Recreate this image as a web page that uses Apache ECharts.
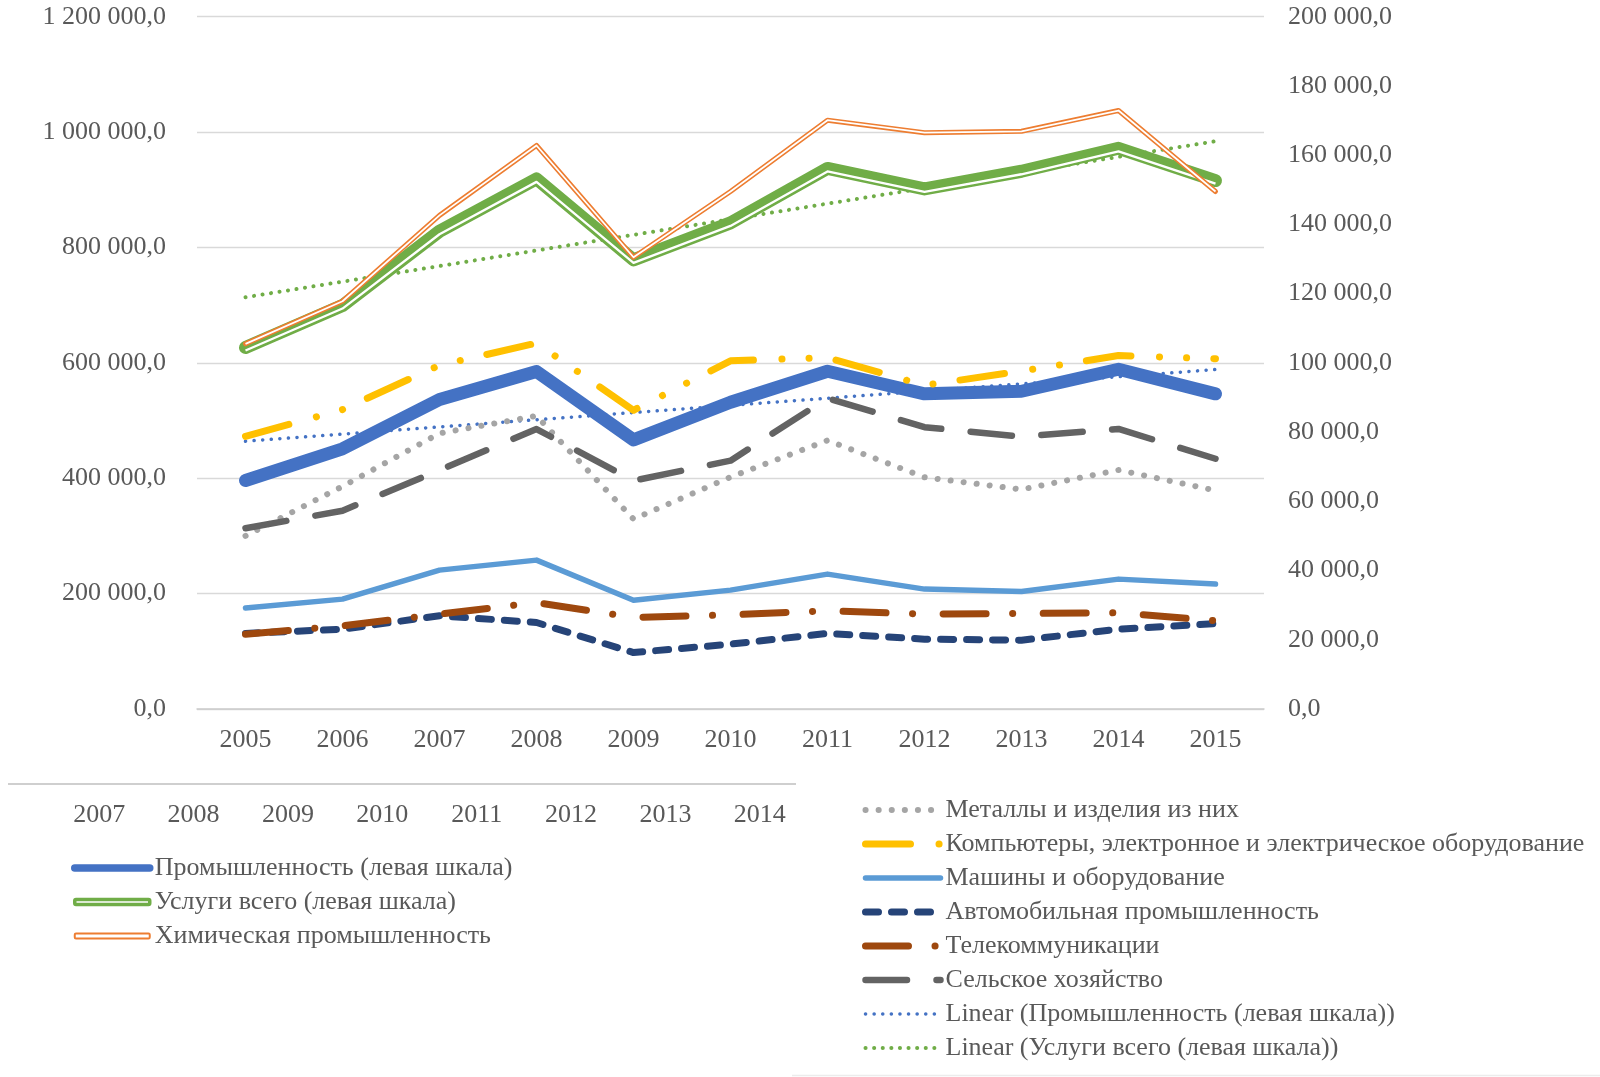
<!DOCTYPE html>
<html><head><meta charset="utf-8">
<script src="https://cdn.jsdelivr.net/npm/echarts@6/dist/echarts.min.js"></script>
<style>html,body{margin:0;padding:0;background:#fff}#c{width:1600px;height:1077px}</style>
</head><body><div id="c"></div>
<script>
// ---- data ----
const years = ['2005','2006','2007','2008','2009','2010','2011','2012','2013','2014','2015'];
const axis2Years = ['2007','2008','2009','2010','2011','2012','2013','2014'];
// left scale
const industry = [396000, 451000, 536400, 585000, 466500, 531700, 585500, 546300, 550800, 588900, 546300];
const services = [626500, 699300, 828100, 918900, 778500, 842600, 937000, 901500, 932100, 971900, 915900];
const trendIndustry = [464100, null, null, null, null, null, null, null, null, null, 588400];
const trendServices = [713700, null, null, null, null, null, null, null, null, null, 984100];
// right scale
const chemical = [105500, 117800, 142600, 162800, 130500, 149500, 170100, 166500, 166900, 172900, 149500];
const metals = [50000, 64300, 79650, 84670, 54870, 67000, 77600, 66950, 63420, 69030, 63130];
const computers = [78760, 86500, 99300, 105700, 86300, 100600, 101500, 93510, 97640, 102100, 101200];
const machines = [29150, 31740, 40120, 43010, 31440, 34340, 38970, 34640, 33950, 37520, 36080];
const autos = [21830, 23070, 26930, 24990, 16310, 18730, 21830, 20180, 19880, 23070, 24690];
const telecom = [21620, 24040, 27400, 30760, 26430, 27200, 28380, 27400, 27580, 27790, 25490];
const agriculture = [52210, 57280, 69000, 80880, 65960, 71740, 89800, 81400, 78700, 80900, 72300];

const names = {
  ind: 'Промышленность (левая шкала)',
  srv: 'Услуги всего (левая шкала)',
  chem: 'Химическая промышленность',
  met: 'Металлы и изделия из них',
  comp: 'Компьютеры, электронное и электрическое оборудование',
  mach: 'Машины и оборудование',
  auto: 'Автомобильная промышленность',
  tel: 'Телекоммуникации',
  agr: 'Сельское хозяйство',
  tInd: 'Linear (Промышленность (левая шкала))',
  tSrv: 'Linear (Услуги всего (левая шкала))'
};

const FONT = 'Liberation Serif';
const TXT = '#595959';
function fmt(v){ return String(Math.round(v)).replace(/\B(?=(\d{3})+(?!\d))/g,' ') + ',0'; }

const chart = echarts.init(document.getElementById('c'), null, {renderer:'canvas'});
const base = {type:'line', symbol:'none', showSymbol:false, smooth:false, animation:false, silent:true};
const lbl = {fontFamily:FONT, fontSize:26, color:TXT};

const option = {
  backgroundColor:'#fff',
  animation:false,
  grid:[
    {left:197, right:336, top:16.7, bottom:368},
    {left:197, right:336, top:19.7, bottom:365},
    {left:52, width:755, top:783, height:1}
  ],
  xAxis:[
    {type:'category', gridIndex:0, data:years, boundaryGap:true,
     axisLine:{show:true, lineStyle:{color:'#cccccc', width:1.5}}, axisTick:{show:false},
     axisLabel:Object.assign({margin:18}, lbl), splitLine:{show:false}},
    {type:'category', gridIndex:1, data:years, boundaryGap:true, show:false},
    {type:'category', gridIndex:2, data:axis2Years, boundaryGap:true,
     axisLine:{show:false}, axisTick:{show:false}, axisLabel:Object.assign({margin:18}, lbl)}
  ],
  yAxis:[
    {type:'value', gridIndex:0, min:0, max:1200000, interval:200000, position:'left',
     axisLine:{show:false}, axisTick:{show:false},
     axisLabel:Object.assign({margin:31, formatter:fmt}, lbl),
     splitLine:{show:true, lineStyle:{color:'#d9d9d9', width:1.3}}},
    {type:'value', gridIndex:0, min:0, max:200000, interval:20000, position:'right',
     axisLine:{show:false}, axisTick:{show:false},
     axisLabel:Object.assign({margin:24, formatter:fmt}, lbl),
     splitLine:{show:false}},
    {type:'value', gridIndex:1, min:0, max:1200000, interval:200000, show:false},
    {type:'value', gridIndex:2, min:0, max:1, show:false}
  ],
  legend:[
    {orient:'vertical', left:71, top:855, padding:0, itemWidth:75, itemHeight:5, itemGap:8, selectedMode:false,
     textStyle:{fontFamily:FONT, fontSize:26, color:TXT, lineHeight:26},
     itemStyle:{color:'rgba(0,0,0,0)', borderWidth:0},
     lineStyle:{width:'inherit'},
     data:[
       {name:names.ind, lineStyle:{width:7.5, cap:'round'}},
       {name:names.srv, icon:'roundRect', itemStyle:{color:'#ffffff', borderColor:'#70AD47', borderWidth:3.5}},
       {name:names.chem, icon:'roundRect', itemStyle:{color:'#ffffff', borderColor:'#ED7D31', borderWidth:2}}
     ]},
    {orient:'vertical', left:862, top:797, padding:0, itemWidth:75, itemHeight:8, itemGap:8, selectedMode:false,
     textStyle:{fontFamily:FONT, fontSize:26, color:TXT, lineHeight:26},
     itemStyle:{color:'rgba(0,0,0,0)', borderWidth:0},
     lineStyle:{width:'inherit'},
     data:[names.met, names.comp, names.mach, names.auto, names.tel, names.agr, names.tInd, names.tSrv]}
  ],
  graphic:[
    {type:'line', shape:{x1:8, y1:784, x2:796, y2:784}, style:{stroke:'#bfbfbf', lineWidth:1.5}, silent:true},
    {type:'line', shape:{x1:792, y1:1075.5, x2:1600, y2:1075.5}, style:{stroke:'#ececec', lineWidth:1.5}, silent:true}
  ],
  series:[
    Object.assign({}, base, {name:names.tInd, data:trendIndustry, connectNulls:true, xAxisIndex:0, yAxisIndex:0,
      lineStyle:{color:'#4472C4', width:3.5, type:[0.1, 8.5], cap:'round'}}),
    Object.assign({}, base, {name:names.tSrv, data:trendServices, connectNulls:true, xAxisIndex:0, yAxisIndex:0,
      lineStyle:{color:'#70AD47', width:4, type:[0.1, 8.5], cap:'round'}}),
    Object.assign({}, base, {name:names.ind, data:industry, xAxisIndex:0, yAxisIndex:0,
      lineStyle:{color:'#4472C4', width:13, cap:'round', join:'round'}}),
    Object.assign({}, base, {name:names.srv, data:services, xAxisIndex:0, yAxisIndex:0,
      lineStyle:{color:'#70AD47', width:13, cap:'round', join:'round'}}),
    Object.assign({}, base, {name:'_srvGap', data:services, xAxisIndex:1, yAxisIndex:2,
      lineStyle:{color:'#ffffff', width:2.3, cap:'butt', join:'round'}}),
    Object.assign({}, base, {name:names.met, data:metals, xAxisIndex:0, yAxisIndex:1,
      lineStyle:{color:'#A5A5A5', width:6, type:[0.1, 13], cap:'round', join:'round'}}),
    Object.assign({}, base, {name:names.comp, data:computers, xAxisIndex:0, yAxisIndex:1,
      lineStyle:{color:'#FFC000', width:7, type:[45, 28.5, 0.1, 27, 0.1, 27.2], cap:'round', join:'round'}}),
    Object.assign({}, base, {name:names.mach, data:machines, xAxisIndex:0, yAxisIndex:1,
      lineStyle:{color:'#5B9BD5', width:5.5, cap:'round', join:'round'}}),
    Object.assign({}, base, {name:names.auto, data:autos, xAxisIndex:0, yAxisIndex:1,
      lineStyle:{color:'#264478', width:7, type:[13, 13], cap:'round', join:'round'}}),
    Object.assign({}, base, {name:names.tel, data:telecom, xAxisIndex:0, yAxisIndex:1,
      lineStyle:{color:'#9E480E', width:7, type:[43, 26.5, 0.1, 30.5], cap:'round', join:'round'}}),
    Object.assign({}, base, {name:names.agr, data:agriculture, xAxisIndex:0, yAxisIndex:1,
      lineStyle:{color:'#636363', width:6.5, type:[41.5, 29.5], cap:'round', join:'round'}}),
    Object.assign({}, base, {name:names.chem, data:chemical, xAxisIndex:0, yAxisIndex:1,
      lineStyle:{color:'#ED7D31', width:5, cap:'round', join:'round'}}),
    Object.assign({}, base, {name:'_chemGap', data:chemical, xAxisIndex:0, yAxisIndex:1,
      lineStyle:{color:'#ffffff', width:1.8, cap:'butt', join:'round'}})
  ]
};
chart.setOption(option);
</script>
</body></html>
